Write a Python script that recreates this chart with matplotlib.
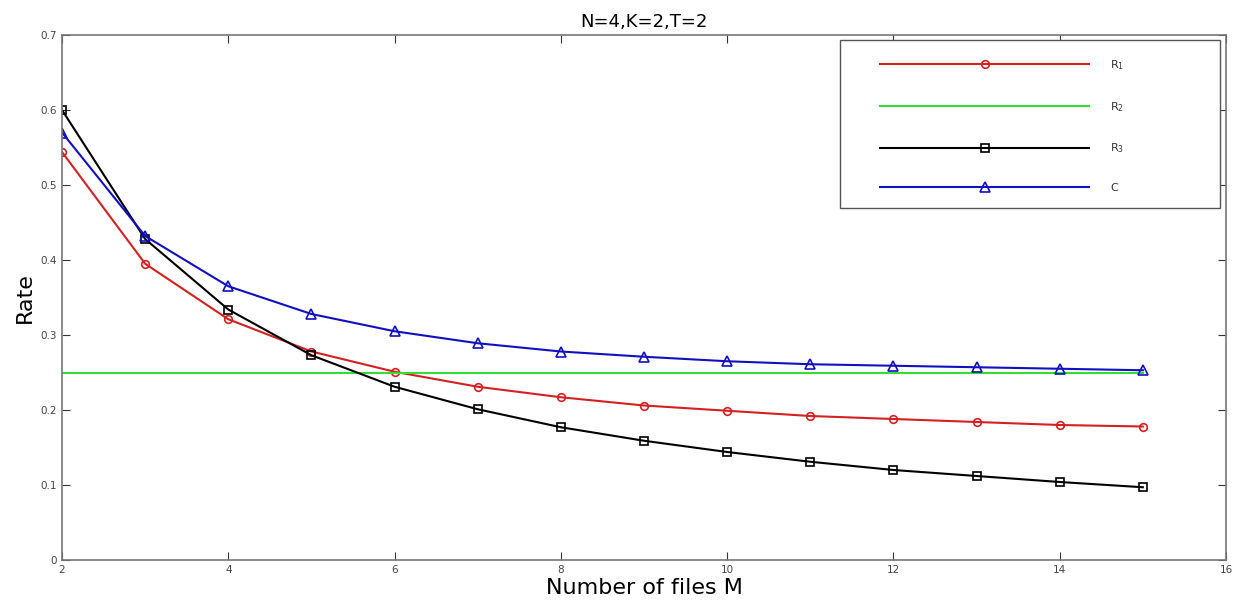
import matplotlib
matplotlib.use("Agg")
import matplotlib.pyplot as plt
from matplotlib.patches import Rectangle
import numpy as np

M = [2, 3, 4, 5, 6, 7, 8, 9, 10, 11, 12, 13, 14, 15]
R1 = [0.544, 0.395, 0.321, 0.278, 0.251, 0.231, 0.217, 0.206, 0.199, 0.192, 0.188, 0.184, 0.180, 0.178]
R2 = [0.25] * 14
R3 = [0.600, 0.428, 0.334, 0.273, 0.231, 0.201, 0.177, 0.159, 0.144, 0.131, 0.120, 0.112, 0.104, 0.097]
C = [0.570, 0.432, 0.365, 0.328, 0.305, 0.289, 0.278, 0.271, 0.265, 0.261, 0.259, 0.257, 0.255, 0.253]

xticks = [2, 4, 6, 8, 10, 12, 14, 16]
yticks = [0, 0.1, 0.2, 0.3, 0.4, 0.5, 0.6, 0.7]
ytick_labels = ["0", "0.1", "0.2", "0.3", "0.4", "0.5", "0.6", "0.7"]

W, H = 1242, 605
fig = plt.figure(figsize=(W/100, H/100), dpi=100)
ax = fig.add_axes([62/W, 1-560/H, (1226-62)/W, (560-35)/H])

ax.plot(M, R1, color="#d42020", marker="o", mfc="none", ms=5.5, mew=1.2, lw=1.5, label="R$_1$")
ax.plot(M, R2, color="#33dd33", lw=1.5, label="R$_2$")
ax.plot(M, R3, color="black", marker="s", mfc="none", ms=6, mew=1.2, lw=1.5, label="R$_3$")
ax.plot(M, C, color="#1010c0", marker="^", mfc="none", ms=6.5, mew=1.2, lw=1.5, label="C")

ax.set_xlim(2, 16)
ax.set_ylim(0, 0.7)
ax.set_xticks(xticks)
ax.set_yticks(yticks)
ax.set_yticklabels(ytick_labels)
ax.tick_params(direction="in", top=True, right=True, labelsize=7.5, labelcolor="#444444", length=6, color="#333333")
for s in ax.spines.values():
    s.set_color("#777777")
    s.set_linewidth(1.2)

ax.set_title("N=4,K=2,T=2", fontsize=13, pad=6)
ax.set_xlabel("Number of files M", fontsize=16, labelpad=2)
ax.set_ylabel("Rate", fontsize=16, labelpad=4)

# legend frame (MATLAB-style wide box)
frame = Rectangle((840/W, 1-208/H), 380/W, 168/H, transform=fig.transFigure,
                  facecolor="white", edgecolor="#555555", lw=1.0, zorder=4, clip_on=False)
ax.add_patch(frame)

leg = ax.legend(loc="upper left", bbox_to_anchor=(862/W, 1-40/H), bbox_transform=fig.transFigure,
                fontsize=8, handlelength=18.8, handletextpad=1.9, labelspacing=2.5, borderpad=1.65,
                frameon=False, borderaxespad=0)
leg.set_zorder(5)
for t in leg.get_texts():
    t.set_color("#333333")

fig.savefig("out.png", dpi=100)
